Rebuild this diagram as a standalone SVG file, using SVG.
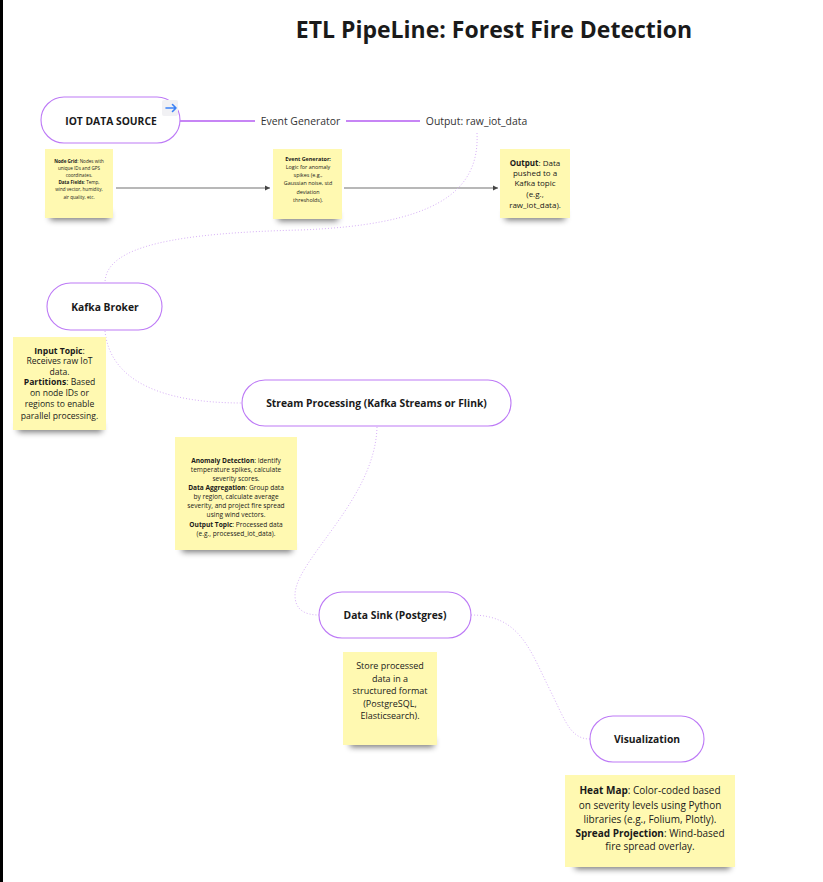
<svg xmlns="http://www.w3.org/2000/svg" width="823" height="882" viewBox="0 0 823 882">
<style>
text{font-family:"Open Sans","Liberation Sans",sans-serif;fill:#1a1a1a}
.title{font-size:23px;font-weight:700}
.pill{fill:#fff;stroke:#bd7af6;stroke-width:1.1}
.nl{font-size:10.3px;font-weight:700;text-anchor:middle}
.el{font-size:10.4px;text-anchor:middle;fill:#333}
.sticky{fill:#fff9b1}
.shadow{fill:#000;opacity:0.55;filter:url(#blur)}
.st{text-anchor:middle;fill:#333}
.b{font-weight:700;fill:#1a1a1a}
.solid{fill:none;stroke:#b45cf2;stroke-width:1.3}
.dot{fill:none;stroke:#d7b0f7;stroke-width:1;stroke-dasharray:1 2}
.grey{fill:none;stroke:#b8b8b8;stroke-width:2;marker-end:url(#ah)}
</style>
<defs>
<filter id="blur" x="-20%" y="-100%" width="140%" height="300%"><feGaussianBlur stdDeviation="3"/></filter>
<marker id="ah" markerWidth="6" markerHeight="6" refX="5" refY="3" orient="auto" markerUnits="userSpaceOnUse"><path d="M0,0.5 L5,3 L0,5.5 Z" fill="#444"/></marker>
</defs>
<rect x="0" y="0" width="823" height="882" fill="#fff"/>
<rect x="0" y="0" width="3" height="882" fill="#000"/>
<text class="title" x="494" y="38" text-anchor="middle">ETL PipeLine: Forest Fire Detection</text>

<g id="connectors">
<path class="solid" d="M180,121 H255"/>
<text class="el" x="300.5" y="124.5">Event Generator</text>
<path class="solid" d="M346,121 H420"/>
<text class="el" x="476.5" y="124.5">Output: raw_iot_data</text>
<path class="grey" d="M116,188 H270"/>
<path class="grey" d="M344,188 H498"/>
<path class="dot" d="M477,133 C480,195 430,225 300,230 C180,233 105,245 105,283"/>
<path class="dot" d="M105,331 C110,380 160,403 242,403"/>
<path class="dot" d="M377,427 C375,500 295,560 295,595 C295,610 305,615 319,615"/>
<path class="dot" d="M471,615 C520,615 530,650 550,690 C565,720 570,739 590,739"/>
</g>

<g id="iot-source">
<rect class="pill" x="41" y="97" width="139" height="46" rx="23"/>
<rect x="162" y="100" width="16" height="16" rx="2" fill="#f1f1f4"/>
<path d="M166,108 H176 M172.5,104.5 L176,108 L172.5,111.5" fill="none" stroke="#3b82f6" stroke-width="1.6" stroke-linecap="round" stroke-linejoin="round"/>
<text class="nl" x="111" y="124.5">IOT DATA SOURCE</text>
</g>
<g id="iot-note">
<rect class="shadow" x="50" y="212" width="60" height="8"/>
<rect class="sticky" x="45" y="149" width="68" height="69"/>
<g class="st" font-size="4.6">
<text x="79" y="163"><tspan class="b">Node Grid</tspan>: Nodes with</text>
<text x="79" y="169.5">unique IDs and GPS</text>
<text x="79" y="176.5">coordinates.</text>
<text x="79" y="184"><tspan class="b">Data Fields</tspan>: Temp,</text>
<text x="79" y="191">wind vector, humidity,</text>
<text x="79" y="199">air quality, etc.</text>
</g>
</g>

<g id="event-note">
<rect class="shadow" x="278" y="213" width="60" height="8"/>
<rect class="sticky" x="273" y="149" width="69" height="70"/>
<g class="st" font-size="5.4">
<text x="308" y="161" class="b">Event Generator:</text>
<text x="308" y="169">Logic for anomaly</text>
<text x="308" y="176.5">spikes (e.g.,</text>
<text x="308" y="185">Gaussian noise, std</text>
<text x="308" y="193.5">deviation</text>
<text x="308" y="202">thresholds).</text>
</g>
</g>

<g id="output-note">
<rect class="shadow" x="505" y="212" width="60" height="8"/>
<rect class="sticky" x="500" y="149" width="70" height="69"/>
<g class="st" font-size="8">
<text x="535" y="166"><tspan class="b">Output</tspan>: Data</text>
<text x="535" y="176">pushed to a</text>
<text x="535" y="186">Kafka topic</text>
<text x="535" y="196.5">(e.g.,</text>
<text x="535" y="208">raw_iot_data).</text>
</g>
</g>

<g id="kafka-broker">
<rect class="pill" x="47" y="283" width="115" height="47" rx="23.5"/>
<text class="nl" x="105" y="310.5">Kafka Broker</text>
</g>
<g id="kafka-note">
<rect class="shadow" x="18" y="424" width="84" height="8"/>
<rect class="sticky" x="13" y="337" width="93" height="93"/>
<g class="st" font-size="8.6">
<text x="59.5" y="353.5" class="b">Input Topic<tspan font-weight="400">:</tspan></text>
<text x="59.5" y="364">Receives raw IoT</text>
<text x="59.5" y="374.5">data.</text>
<text x="59.5" y="385"><tspan class="b">Partitions</tspan>: Based</text>
<text x="59.5" y="396">on node IDs or</text>
<text x="59.5" y="407">regions to enable</text>
<text x="59.5" y="418.5">parallel processing.</text>
</g>
</g>

<g id="stream-processing">
<rect class="pill" x="242" y="380" width="269" height="46" rx="23"/>
<text class="nl" x="376.5" y="406.5">Stream Processing (Kafka Streams or Flink)</text>
</g>
<g id="stream-note">
<rect class="shadow" x="182" y="544" width="110" height="8"/>
<rect class="sticky" x="175" y="437" width="122" height="113"/>
<g class="st" font-size="6.6">
<text x="236" y="463"><tspan class="b">Anomaly Detection</tspan>: Identify</text>
<text x="236" y="471.5">temperature spikes, calculate</text>
<text x="236" y="480.5">severity scores.</text>
<text x="236" y="489.5"><tspan class="b">Data Aggregation</tspan>: Group data</text>
<text x="236" y="498.5">by region, calculate average</text>
<text x="236" y="508">severity, and project fire spread</text>
<text x="236" y="517">using wind vectors.</text>
<text x="236" y="526.5"><tspan class="b">Output Topic</tspan>: Processed data</text>
<text x="236" y="535.5">(e.g., processed_iot_data).</text>
</g>
</g>

<g id="data-sink">
<rect class="pill" x="319" y="592" width="152" height="46" rx="23"/>
<text class="nl" x="395" y="618.5">Data Sink (Postgres)</text>
</g>
<g id="sink-note">
<rect class="shadow" x="350" y="739" width="84" height="8"/>
<rect class="sticky" x="343" y="652" width="94" height="93"/>
<g class="st" font-size="9">
<text x="390" y="669">Store processed</text>
<text x="390" y="681.5">data in a</text>
<text x="390" y="694">structured format</text>
<text x="390" y="706.5">(PostgreSQL,</text>
<text x="390" y="719">Elasticsearch).</text>
</g>
</g>

<g id="visualization">
<rect class="pill" x="590" y="716" width="114" height="46" rx="23"/>
<text class="nl" x="647" y="742.5">Visualization</text>
</g>
<g id="vis-note">
<rect class="shadow" x="575" y="861" width="155" height="8"/>
<rect class="sticky" x="565" y="775" width="170" height="92"/>
<g class="st" font-size="10">
<text x="650" y="794"><tspan class="b">Heat Map</tspan>: Color-coded based</text>
<text x="650" y="809">on severity levels using Python</text>
<text x="650" y="822.5">libraries (e.g., Folium, Plotly).</text>
<text x="650" y="836.5"><tspan class="b">Spread Projection</tspan>: Wind-based</text>
<text x="650" y="850">fire spread overlay.</text>
</g>
</g>
</svg>
